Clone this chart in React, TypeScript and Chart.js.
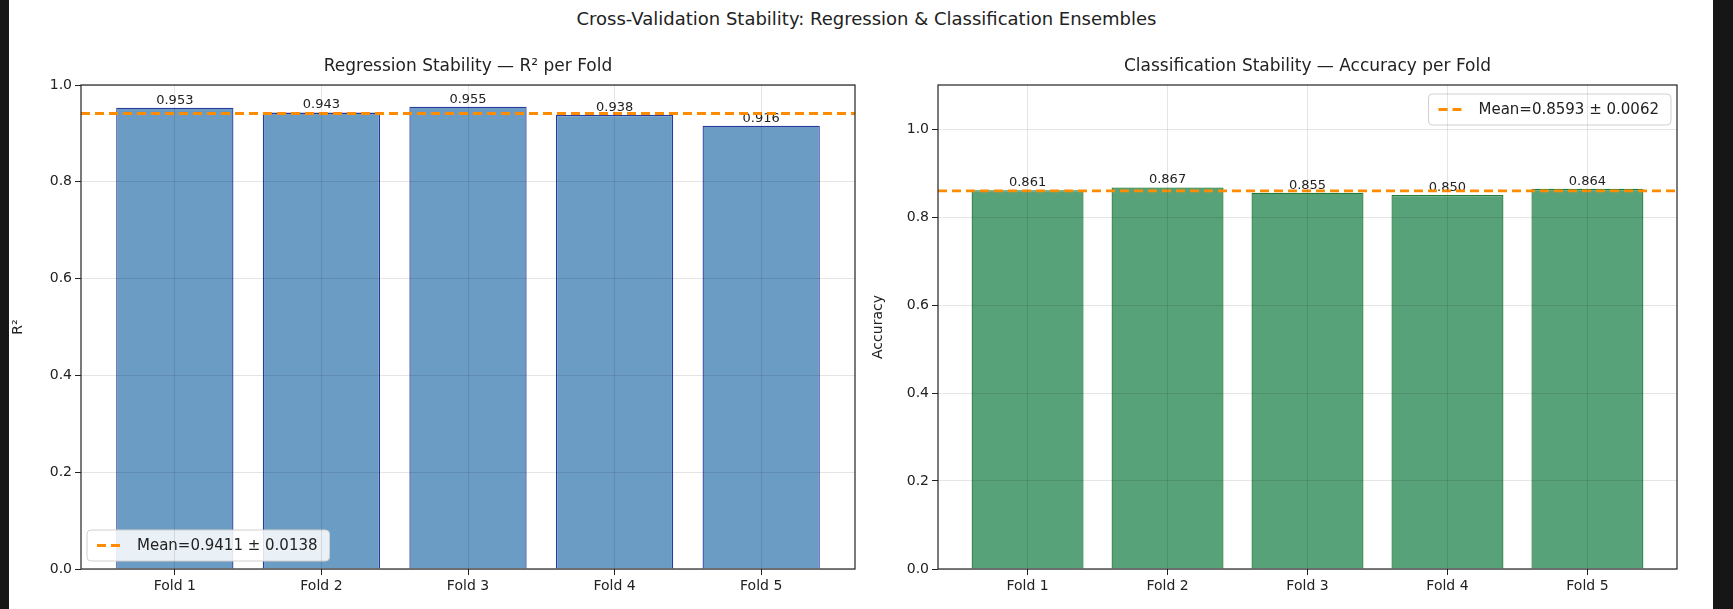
import React, { useEffect, useRef } from "react";
import { Chart, registerables } from "chart.js";
Chart.register(...registerables);

const folds = ["Fold 1", "Fold 2", "Fold 3", "Fold 4", "Fold 5"];
const r2Values = [0.953, 0.943, 0.955, 0.938, 0.916];
const accValues = [0.861, 0.867, 0.855, 0.85, 0.864];
const r2Mean = 0.9411;
const r2Std = 0.0138;
const accMean = 0.8593;
const accStd = 0.0062;

const FONT = "'DejaVu Sans', sans-serif";

type Cfg = {
  values: number[];
  mean: number;
  std: number;
  title: string;
  yTitle: string;
  yMax: number;
  fill: string;
  edge: string;
  yW: number;
  padR: number;
  legendPos: "lowerleft" | "upperright";
};

function makeChart(canvas: HTMLCanvasElement, c: Cfg) {
  const overlay = {
    id: "overlay",
    afterDatasetsDraw(chart: any) {
      const { ctx, chartArea: a, scales } = chart;
      const y = scales.y, x = scales.x;
      ctx.save();
      ctx.fillStyle = "#222";
      ctx.font = `13px ${FONT}`;
      ctx.textAlign = "center";
      ctx.textBaseline = "bottom";
      c.values.forEach((v, i) => {
        ctx.fillText(v.toFixed(3), x.getPixelForValue(i), y.getPixelForValue(v) - 1);
      });
      const my = y.getPixelForValue(c.mean);
      ctx.strokeStyle = "#ff8c00";
      ctx.lineWidth = 2.8;
      ctx.setLineDash([9, 5]);
      ctx.beginPath();
      ctx.moveTo(a.left, my);
      ctx.lineTo(a.right, my);
      ctx.stroke();
      ctx.setLineDash([]);
      ctx.strokeStyle = "#222";
      ctx.lineWidth = 1.2;
      ctx.strokeRect(a.left, a.top, a.right - a.left, a.bottom - a.top);
      ctx.fillStyle = "#222";
      ctx.font = `17px ${FONT}`;
      ctx.textBaseline = "middle";
      ctx.fillText(c.title, (a.left + a.right) / 2, a.top - 18);
      const label = `Mean=${c.mean.toFixed(4)} ± ${c.std.toFixed(4)}`;
      ctx.font = `15px ${FONT}`;
      const tw = ctx.measureText(label).width;
      const w = tw + 62, h = 31;
      const lx = c.legendPos === "lowerleft" ? a.left + 6 : a.right - 6 - w;
      const ly = c.legendPos === "lowerleft" ? a.bottom - 8 - h : a.top + 9;
      ctx.fillStyle = "rgba(255,255,255,0.85)";
      ctx.strokeStyle = "#d0d0d0";
      ctx.lineWidth = 1;
      ctx.beginPath();
      (ctx as any).roundRect(lx, ly, w, h, 4);
      ctx.fill();
      ctx.stroke();
      ctx.strokeStyle = "#ff8c00";
      ctx.lineWidth = 2.8;
      ctx.setLineDash([9, 5]);
      ctx.beginPath();
      ctx.moveTo(lx + 10, ly + h / 2);
      ctx.lineTo(lx + 38, ly + h / 2);
      ctx.stroke();
      ctx.setLineDash([]);
      ctx.fillStyle = "#222";
      ctx.textAlign = "left";
      ctx.fillText(label, lx + 50, ly + h / 2 + 1);
      ctx.restore();
    },
  };

  return new Chart(canvas, {
    type: "bar",
    data: {
      datasets: [
        {
          data: c.values.map((v, i) => ({ x: i, y: v })),
          backgroundColor: c.fill,
          borderColor: c.edge,
          borderWidth: 1.3,
          barPercentage: 0.8,
          categoryPercentage: 1,
        },
      ],
    },
    options: {
      animation: false,
      responsive: false,
      layout: { padding: { top: 45, right: c.padR, left: 0, bottom: 0 } },
      plugins: { legend: { display: false }, tooltip: { enabled: false } },
      scales: {
        x: {
          type: "linear",
          min: -0.64,
          max: 4.64,
          offset: false,
          bounds: "data",
          afterBuildTicks: (s: any) => {
            s.ticks = [0, 1, 2, 3, 4].map((v) => ({ value: v }));
          },
          afterFit: (s: any) => {
            s.height = 40;
          },
          ticks: {
            callback: (v: any) => folds[Number(v)] ?? "",
            color: "#222",
            font: { family: FONT, size: 14 },
            autoSkip: false,
            maxRotation: 0,
          },
          grid: { offset: false, color: "rgba(0,0,0,0.1)", z: 1, tickColor: "#222", tickLength: 6 },
          border: { display: false },
        },
        y: {
          min: 0,
          max: c.yMax,
          afterBuildTicks: (s: any) => {
            s.ticks = [0, 0.2, 0.4, 0.6, 0.8, 1.0].map((v) => ({ value: v }));
          },
          afterFit: (s: any) => {
            s.width = c.yW;
          },
          ticks: {
            callback: (v: any) => Number(v).toFixed(1),
            color: "#222",
            font: { family: FONT, size: 14 },
          },
          title: { display: true, text: c.yTitle, color: "#222", font: { family: FONT, size: 14 }, padding: 0 },
          grid: { color: "rgba(0,0,0,0.1)", z: 1, tickColor: "#222", tickLength: 6 },
          border: { display: false },
        },
      },
    },
    plugins: [overlay],
  } as any);
}

export default function App() {
  const lRef = useRef<HTMLCanvasElement>(null);
  const rRef = useRef<HTMLCanvasElement>(null);
  useEffect(() => {
    document.body.style.margin = "0";
    const a = makeChart(lRef.current!, {
      values: r2Values, mean: r2Mean, std: r2Std,
      title: "Regression Stability — R² per Fold", yTitle: "R²", yMax: 1.0,
      fill: "#6a9cc4", edge: "#2b3a9e", yW: 71, padR: 15, legendPos: "lowerleft",
    });
    const b = makeChart(rRef.current!, {
      values: accValues, mean: accMean, std: accStd,
      title: "Classification Stability — Accuracy per Fold", yTitle: "Accuracy", yMax: 1.1,
      fill: "#58a279", edge: "#1f7a33", yW: 68, padR: 36, legendPos: "upperright",
    });
    return () => { a.destroy(); b.destroy(); };
  }, []);
  return (
    <div style={{ position: "relative", width: 1733, height: 609, background: "#fff", overflow: "hidden" }}>
      <div style={{ position: "absolute", left: 0, top: 0, width: 9, height: 609, background: "#161616" }} />
      <div style={{ position: "absolute", left: 1713, top: 0, width: 20, height: 609, background: "#161616" }} />
      <div style={{ position: "absolute", left: 0, top: 8, width: 1733, textAlign: "center", font: `18px ${FONT}`, color: "#222" }}>
        Cross-Validation Stability: Regression &amp; Classification Ensembles
      </div>
      <canvas ref={lRef} width={860} height={569} style={{ position: "absolute", left: 10, top: 40 }} />
      <canvas ref={rRef} width={843} height={569} style={{ position: "absolute", left: 870, top: 40 }} />
    </div>
  );
}
